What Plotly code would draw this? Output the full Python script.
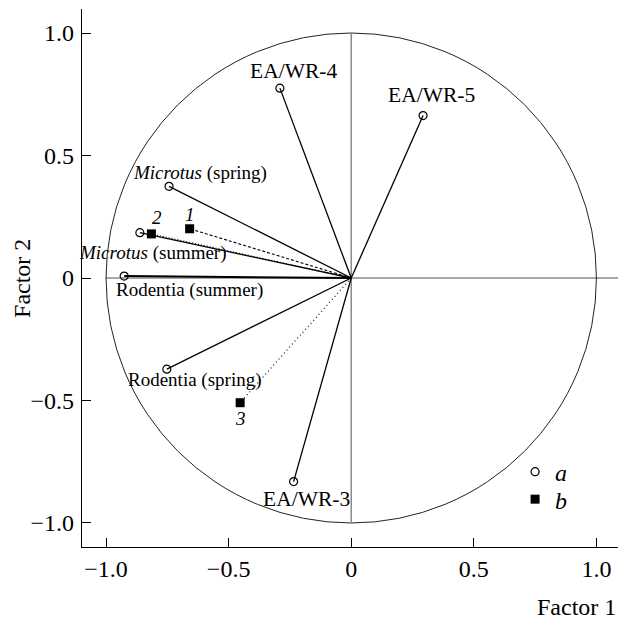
import plotly.graph_objects as go

# ---- data ----
var_names = ["EA/WR-4", "EA/WR-5", "<i>Microtus</i> (spring)", "<i>Microtus</i> (summer)",
             "Rodentia (summer)", "Rodentia (spring)", "EA/WR-3"]
var_x = [-0.291, 0.293, -0.743, -0.862, -0.926, -0.752, -0.235]
var_y = [0.775, 0.663, 0.374, 0.185, 0.008, -0.372, -0.831]

obj_names = ["1", "2", "3"]
obj_x = [-0.659, -0.815, -0.453]
obj_y = [0.201, 0.180, -0.509]

tick_vals = [-1.0, -0.5, 0.0, 0.5, 1.0]
tick_text = ["\u22121.0", "\u22120.5", "0", "0.5", "1.0"]

legend_names = ["<i>a</i>", "<i>b</i>"]

# ---- styling ----
FONT = "Liberation Serif"
X_RANGE = [-1.098, 1.088]
Y_RANGE = [-1.098, 1.098]
var_label_shift = {  # (xshift, yshift) in px
    "EA/WR-4": (14, 17), "EA/WR-5": (8, 21),
    "<i>Microtus</i> (spring)": (31, 13), "<i>Microtus</i> (summer)": (13, -20),
    "Rodentia (summer)": (65, -14), "Rodentia (spring)": (28, -11),
    "EA/WR-3": (13, -17),
}
var_font_size = {"EA/WR-4": 21.5, "EA/WR-5": 21.5, "EA/WR-3": 21.5}
obj_label_shift = {"1": (0, 14), "2": (6, 16), "3": (0, -16)}
obj_dash = {"1": "3px,2px", "2": "1px,2px", "3": "1px,3px"}

fig = go.Figure()

# unit circle and grey axes cross
fig.add_shape(type="circle", x0=-1, y0=-1, x1=1, y1=1, xref="x", yref="y",
              line=dict(color="#222", width=1), layer="below")
x_left_paper = (-1 - X_RANGE[0]) / (X_RANGE[1] - X_RANGE[0])
fig.add_shape(type="line", x0=x_left_paper, x1=1, xref="paper", y0=0, y1=0, yref="y",
              line=dict(color="#8a8a8a", width=1.5), layer="below")
fig.add_shape(type="line", x0=0, x1=0, xref="x", y0=-1, y1=1, yref="y",
              line=dict(color="#8a8a8a", width=1.5), layer="below")

# vectors for variables
for n, x, y in zip(var_names, var_x, var_y):
    fig.add_trace(go.Scatter(x=[0, x], y=[0, y], mode="lines",
                             line=dict(color="black", width=2 if "Rodentia (summer)" in n else 1.3),
                             showlegend=False, hoverinfo="skip"))
# vectors for objects
for n, x, y in zip(obj_names, obj_x, obj_y):
    fig.add_trace(go.Scatter(x=[0, x], y=[0, y], mode="lines",
                             line=dict(color="black", width=1.1, dash=obj_dash[n]),
                             showlegend=False, hoverinfo="skip"))

fig.add_trace(go.Scatter(x=var_x, y=var_y, mode="markers", name=legend_names[0],
                         marker=dict(symbol="circle-open", size=8, color="black",
                                     line=dict(width=1.2, color="black")),
                         cliponaxis=False, legend="legend"))
fig.add_trace(go.Scatter(x=obj_x, y=obj_y, mode="markers", name=legend_names[1],
                         marker=dict(symbol="square", size=9, color="black"),
                         cliponaxis=False, legend="legend2"))

ann = []
for n, x, y in zip(var_names, var_x, var_y):
    dx, dy = var_label_shift[n]
    ann.append(dict(x=x, y=y, xref="x", yref="y", text=n, showarrow=False,
                    xshift=dx, yshift=dy, xanchor="center", yanchor="middle",
                    font=dict(family=FONT, size=var_font_size.get(n, 19), color="black")))
for n, x, y in zip(obj_names, obj_x, obj_y):
    dx, dy = obj_label_shift[n]
    ann.append(dict(x=x, y=y, xref="x", yref="y", text="<i>" + n + "</i>", showarrow=False,
                    xshift=dx, yshift=dy, xanchor="center", yanchor="middle",
                    font=dict(family=FONT, size=19, color="black")))
ann.append(dict(x=1, y=-0.1115, xref="paper", yref="paper", text="Factor 1",
                showarrow=False, xanchor="right", yanchor="middle",
                font=dict(family=FONT, size=24, color="black")))
ann.append(dict(x=-0.112, y=0.5, xref="paper", yref="paper", text="Factor 2",
                showarrow=False, textangle=-90, xanchor="center", yanchor="middle",
                font=dict(family=FONT, size=24, color="black")))

axis_common = dict(tickvals=tick_vals, ticktext=tick_text, ticks="inside", ticklen=9,
                   tickwidth=1, tickcolor="black", showline=True, linecolor="black",
                   linewidth=1.3, mirror=False, showgrid=False, zeroline=False,
                   tickfont=dict(family=FONT, size=24, color="black"), automargin=False)

legend_common = dict(xanchor="left", yanchor="top", bgcolor="rgba(0,0,0,0)",
                     font=dict(family=FONT, size=24, color="black"), itemwidth=30)

fig.update_layout(
    width=618, height=619,
    margin=dict(l=82, r=0, t=9, b=72),
    paper_bgcolor="white", plot_bgcolor="white",
    xaxis=dict(range=X_RANGE, ticklabelstandoff=0, **axis_common),
    yaxis=dict(range=Y_RANGE, ticklabelstandoff=2, **axis_common),
    annotations=ann,
    showlegend=True,
    legend=dict(x=0.808, y=0.181, **legend_common),
    legend2=dict(x=0.808, y=0.130, **legend_common),
)

fig.write_html("out.html")
